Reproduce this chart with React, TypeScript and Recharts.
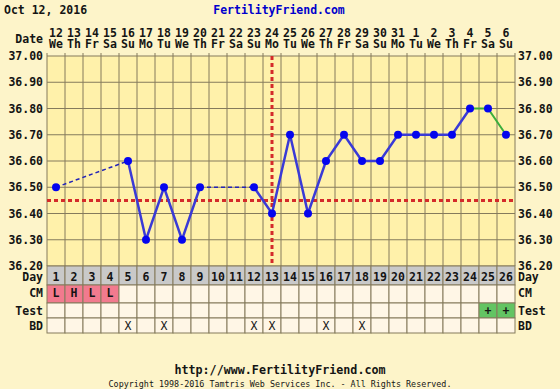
import React from 'react';
import { ComposedChart, Line, XAxis, YAxis, CartesianGrid, ReferenceLine } from 'recharts';

// ---------- data ----------
const days = [1, 2, 3, 4, 5, 6, 7, 8, 9, 10, 11, 12, 13, 14, 15, 16, 17, 18, 19, 20, 21, 22, 23, 24, 25, 26];
const dateLabels = ['12', '13', '14', '15', '16', '17', '18', '19', '20', '21', '22', '23', '24', '25', '26', '27', '28', '29', '30', '31', '1', '2', '3', '4', '5', '6'];
const weekdayLabels = ['We', 'Th', 'Fr', 'Sa', 'Su', 'Mo', 'Tu', 'We', 'Th', 'Fr', 'Sa', 'Su', 'Mo', 'Tu', 'We', 'Th', 'Fr', 'Sa', 'Su', 'Mo', 'Tu', 'We', 'Th', 'Fr', 'Sa', 'Su'];
const temps: (number | null)[] = [36.5, null, null, null, 36.6, 36.3, 36.5, 36.3, 36.5, null, null, 36.5, 36.4, 36.7, 36.4, 36.6, 36.7, 36.6, 36.6, 36.7, 36.7, 36.7, 36.7, 36.8, 36.8, 36.7];
const dashedGaps: [number, number][] = [[1, 5], [9, 12]];
const greenDays = [24, 25, 26];
const cmLabels = ['L', 'H', 'L', 'L', '', '', '', '', '', '', '', '', '', '', '', '', '', '', '', '', '', '', '', '', '', ''];
const testLabels = ['', '', '', '', '', '', '', '', '', '', '', '', '', '', '', '', '', '', '', '', '', '', '', '', '+', '+'];
const bdLabels = ['', '', '', '', 'X', '', 'X', '', '', '', '', 'X', 'X', '', '', 'X', '', 'X', '', '', '', '', '', '', '', ''];
const coverline = 36.45;
const ovulationDay = 13;
const yTicks = [36.2, 36.3, 36.4, 36.5, 36.6, 36.7, 36.8, 36.9, 37.0];
const yGridTicks = [36.2, 36.25, 36.3, 36.35, 36.4, 36.45, 36.5, 36.55, 36.6, 36.65, 36.7, 36.75, 36.8, 36.85, 36.9, 36.95, 37.0];
const xGridTicks = [0.5, 1.5, 2.5, 3.5, 4.5, 5.5, 6.5, 7.5, 8.5, 9.5, 10.5, 11.5, 12.5, 13.5, 14.5, 15.5, 16.5, 17.5, 18.5, 19.5, 20.5, 21.5, 22.5, 23.5, 24.5, 25.5, 26.5];

// ---------- layout ----------
const W = 560;
const H = 389;
const LEFT_W = 47;
const RIGHT_W = 45;
const TOP_H = 56;
const PLOT_W = W - LEFT_W - RIGHT_W;
const COL_W = PLOT_W / days.length;
const HALF = COL_W / 2;
const FONT = '"DejaVu Sans Mono", "Liberation Mono", monospace';
const GRID = '#857b5c';
const TXT = '#141414';

const rows = [
  { id: 'day', top: 266, h: 19, label: 'Day', base: 281, fill: () => '#c9c9c9', text: (i: number) => String(days[i]), bold: true },
  { id: 'cm', top: 285, h: 18, label: 'CM', base: 297, fill: (i: number) => (cmLabels[i] ? '#f27a8e' : '#fff6e6'), text: (i: number) => cmLabels[i], bold: true },
  { id: 'test', top: 303, h: 15, label: 'Test', base: 315, fill: (i: number) => (testLabels[i] ? '#63c463' : '#fff6e6'), text: (i: number) => testLabels[i], bold: true },
  { id: 'bd', top: 318, h: 15, label: 'BD', base: 330, fill: () => '#fff6e6', text: (i: number) => bdLabels[i], bold: false },
];

const data = days.map((d, i) => {
  const t = temps[i];
  const row: Record<string, number | null> = { day: d, temp: t };
  row.blue = greenDays.includes(d) && d !== greenDays[0] ? null : t;
  row.green = greenDays.includes(d) ? t : null;
  dashedGaps.forEach(([a, b], k) => {
    row['gap' + k] = d === a || d === b ? t : null;
  });
  return row;
});

const TopTick = (props: any) => {
  const { x, payload } = props;
  const i = payload.value - 1;
  return (
    <g>
      <text x={x} y={37} textAnchor="middle" fontFamily={FONT} fontSize={11.5} fontWeight="bold" fill={TXT}>{dateLabels[i]}</text>
      <text x={x} y={48} textAnchor="middle" fontFamily={FONT} fontSize={11.5} fontWeight="bold" fill={TXT}>{weekdayLabels[i]}</text>
      <line x1={x - HALF} x2={x - HALF} y1={53} y2={56} stroke={GRID} />
      {i === days.length - 1 && <line x1={x + HALF} x2={x + HALF} y1={53} y2={56} stroke={GRID} />}
      {i === 0 && (
        <text x={LEFT_W - 4} y={43} textAnchor="end" fontFamily={FONT} fontSize={11.5} fontWeight="bold" fill={TXT}>Date</text>
      )}
    </g>
  );
};

const makeRowTick = (row: typeof rows[number]) => (props: any) => {
  const { x, payload } = props;
  const i = payload.value - 1;
  return (
    <g>
      <rect x={x - HALF} y={row.top} width={COL_W} height={row.h} fill={row.fill(i)} stroke={GRID} strokeWidth={1} />
      <text x={x} y={row.base} textAnchor="middle" fontFamily={FONT} fontSize={11.5} fontWeight={row.bold ? 'bold' : 'normal'} fill={TXT}>{row.text(i)}</text>
      {i === 0 && (
        <text x={LEFT_W - 4} y={row.base} textAnchor="end" fontFamily={FONT} fontSize={11.5} fontWeight="bold" fill={TXT}>{row.label}</text>
      )}
      {i === days.length - 1 && (
        <text x={W - RIGHT_W + 3} y={row.base} textAnchor="start" fontFamily={FONT} fontSize={11.5} fontWeight="bold" fill={TXT}>{row.label}</text>
      )}
    </g>
  );
};

const tickFont = { fontFamily: FONT, fontSize: 11.5, fontWeight: 'bold', fill: TXT } as any;

export default function App() {
  return (
    <div style={{ position: 'relative', width: W, height: H, background: '#fdf4c9' }}>
      <style>{'body{margin:0;background:#fdf4c9}'}</style>
      <ComposedChart width={W} height={H} data={data} margin={{ top: 0, right: 0, bottom: 56, left: 0 }}>
        <CartesianGrid xAxisId="top" yAxisId="left" horizontalValues={yGridTicks} verticalValues={xGridTicks}
          stroke={GRID} strokeWidth={1} fill="#fff1aa" fillOpacity={1} />
        <XAxis xAxisId="top" orientation="top" dataKey="day" type="number" domain={[0.5, 26.5]} ticks={days} interval={0}
          height={TOP_H} axisLine={false} tickLine={false} tick={<TopTick />} allowDataOverflow />
        {rows.map((r) => (
          <XAxis key={r.id} xAxisId={r.id} orientation="bottom" dataKey="day" type="number" domain={[0.5, 26.5]} ticks={days}
            interval={0} height={r.h} axisLine={false} tickLine={false} tick={makeRowTick(r)} allowDataOverflow />
        ))}
        <YAxis yAxisId="left" orientation="left" type="number" domain={[36.2, 37.0]} ticks={yTicks} width={LEFT_W}
          axisLine={false} tickLine={false} tickSize={0} tickMargin={4} tick={tickFont} tickFormatter={(v: number) => v.toFixed(2)} allowDataOverflow />
        <YAxis yAxisId="right" orientation="right" type="number" domain={[36.2, 37.0]} ticks={yTicks} width={RIGHT_W}
          axisLine={false} tickLine={false} tickSize={0} tickMargin={3} tick={tickFont} tickFormatter={(v: number) => v.toFixed(2)} allowDataOverflow />
        <ReferenceLine xAxisId="top" yAxisId="left" y={coverline} stroke="#d42a2a" strokeWidth={3} strokeDasharray="4 3" />
        <ReferenceLine xAxisId="top" yAxisId="left" x={ovulationDay} stroke="#d42a2a" strokeWidth={3} strokeDasharray="4 3" />
        {dashedGaps.map((_, k) => (
          <Line key={'gap' + k} xAxisId="top" yAxisId="left" dataKey={'gap' + k} stroke="#2424b8" strokeWidth={1.5}
            strokeDasharray="4 3" dot={false} activeDot={false} connectNulls isAnimationActive={false} />
        ))}
        <Line xAxisId="top" yAxisId="left" dataKey="blue" stroke="#3a3ad6" strokeWidth={2.5} dot={false} activeDot={false}
          connectNulls={false} isAnimationActive={false} />
        <Line xAxisId="top" yAxisId="left" dataKey="green" stroke="#3cae3c" strokeWidth={2} dot={false} activeDot={false}
          connectNulls={false} isAnimationActive={false} />
        <Line xAxisId="top" yAxisId="left" dataKey="temp" stroke="none" dot={{ r: 4, fill: '#0505ee', stroke: '#0505ee', strokeWidth: 0 }}
          activeDot={false} connectNulls={false} isAnimationActive={false} />
      </ComposedChart>
      <svg width={W} height={H} style={{ position: 'absolute', left: 0, top: 0, pointerEvents: 'none' }}>
        <text x={4} y={14} fontFamily={FONT} fontSize={11.5} fontWeight="bold" fill={TXT}>Oct 12, 2016</text>
        <text x={279} y={14} textAnchor="middle" fontFamily={FONT} fontSize={11.5} fontWeight="bold" fill="#0000cc">FertilityFriend.com</text>
        <text x={280} y={374} textAnchor="middle" fontFamily={FONT} fontSize={11.7} fontWeight="bold" fill={TXT}>http://www.FertilityFriend.com</text>
        <text x={280} y={387} textAnchor="middle" fontFamily={FONT} fontSize={8.4} fill={TXT}>Copyright 1998-2016 Tamtris Web Services Inc. - All Rights Reserved.</text>
      </svg>
    </div>
  );
}
